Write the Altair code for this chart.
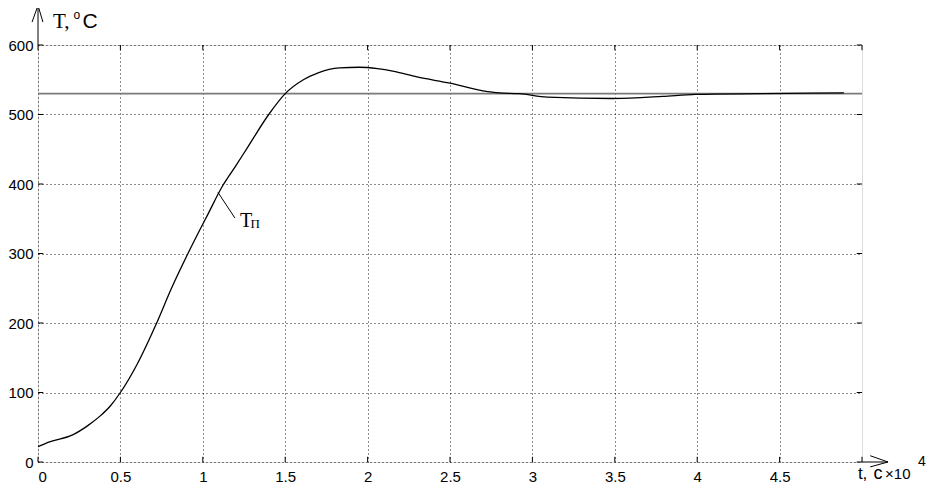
import altair as alt
import pandas as pd

# curve T_p(t), t in units of 1e4 s
t_vals = [0, 0.07, 0.21, 0.30, 0.376, 0.44, 0.5, 0.6, 0.72, 0.81, 0.91, 0.98, 1.03, 1.117,
          1.2, 1.27, 1.4, 1.5, 1.61, 1.7, 1.83, 1.95, 2.06, 2.16, 2.3, 2.5, 2.7, 2.8,
          2.92, 3.09, 3.49, 3.79, 3.99, 4.39, 4.89]
T_vals = [22, 29, 39, 52, 66, 81, 100, 140, 200, 250, 300, 333, 356, 396,
          426, 452, 500, 530, 550, 560, 567, 568, 566, 562, 554, 545, 534, 531,
          530, 525, 523, 526, 529, 530, 531]
setpoint = 530

x_ticks = [0, 0.5, 1, 1.5, 2, 2.5, 3, 3.5, 4, 4.5]
y_ticks = [0, 100, 200, 300, 400, 500, 600]
x_max = 5
y_max = 600

curve = pd.DataFrame({"t": t_vals, "T": T_vals})

xs = alt.Scale(domain=[0, x_max], nice=False, zero=False)
ys = alt.Scale(domain=[0, y_max], nice=False, zero=False)

xaxis = alt.Axis(values=x_ticks, format="~g", title="", grid=True, domain=False, ticks=False,
                 labelPadding=7, labelFontSize=15, labelFont="Liberation Sans", labelColor="black",
                 gridColor="black", gridDash=[1, 3], gridWidth=1, gridOpacity=0.9)
yaxis = alt.Axis(values=y_ticks, title="", grid=True, domain=False, ticks=False,
                 labelPadding=5, labelFontSize=15, labelFont="Liberation Sans", labelColor="black",
                 gridColor="black", gridDash=[1, 3], gridWidth=1, gridOpacity=0.9)

base = alt.Chart(curve).mark_line(color="black", strokeWidth=1.3, interpolate="monotone").encode(
    x=alt.X("t:Q", scale=xs, axis=xaxis),
    y=alt.Y("T:Q", scale=ys, axis=yaxis),
)

sp = alt.Chart(pd.DataFrame({"x": [0], "x2": [x_max], "y": [setpoint]})).mark_rule(
    color="#7a7a7a", strokeWidth=1.6).encode(
    x=alt.X("x:Q", scale=xs), x2="x2:Q", y=alt.Y("y:Q", scale=ys))

# tick marks (inward, all four sides), arrows and leader line
segs = []
dx, dy = 0.032, 7.5
for v in x_ticks + [x_max]:
    segs.append((v, v, 0, dy))
    segs.append((v, v, y_max - dy, y_max))
for v in y_ticks:
    segs.append((0, dx, v, v))
    segs.append((x_max - dx, x_max, v, v))
# y arrow
segs += [(0, 0, y_max, 657), (-0.036, 0, 633, 657), (0.03, 0, 633, 657)]
# x arrow
segs += [(x_max, 5.158, 0, 0), (5.05, 5.158, 9, 0), (5.05, 5.158, -7, 0)]
# leader line for label
segs += [(1.092, 1.195, 388, 351)]
seg_df = pd.DataFrame(segs, columns=["x", "x2", "y", "y2"])
rules = alt.Chart(seg_df).mark_rule(color="black", strokeWidth=1).encode(
    x=alt.X("x:Q", scale=xs), x2="x2:Q", y=alt.Y("y:Q", scale=ys), y2="y2:Q")

def txt(s, x, y, size, font, baseline="alphabetic"):
    return alt.Chart(pd.DataFrame({"x": [x], "y": [y], "s": [s]})).mark_text(
        text=s, align="left", baseline=baseline, fontSize=size, font=font, color="black"
    ).encode(x=alt.X("x:Q", scale=xs), y=alt.Y("y:Q", scale=ys))

texts = [
    txt("T,", 0.091, 624, 21, "Liberation Serif"),
    txt("o", 0.215, 637, 12, "Liberation Sans"),
    txt("C", 0.27, 624, 21, "Liberation Sans"),
    txt("t,", 4.975, -25, 17, "Liberation Sans"),
    txt("c", 5.07, -25, 18, "Liberation Sans"),
    txt("\u00d710", 5.14, -25, 15, "Liberation Sans"),
    txt("4", 5.34, -6, 14, "Liberation Sans"),
    txt("T", 1.226, 338, 20, "Liberation Serif"),
    txt("\u041f", 1.29, 337, 13, "Liberation Serif"),
]

chart = alt.layer(sp, base, rules, *texts).properties(
    width=824, height=417,
    padding={"left": 30, "top": 37, "right": 64, "bottom": 23},
    autosize=alt.AutoSizeParams(type="none"),
).configure_view(stroke="black", strokeWidth=1).configure(background="white")

chart.save("out.html", embed_options={"renderer": "svg", "actions": False})
